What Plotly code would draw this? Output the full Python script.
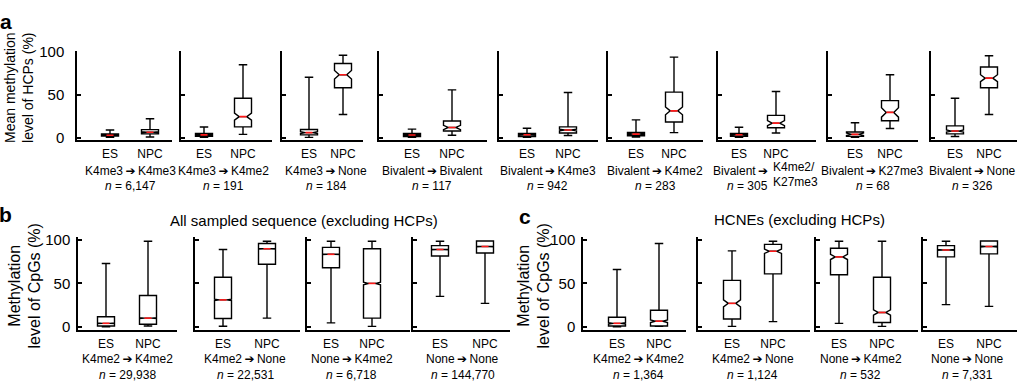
import plotly.graph_objects as go

W, H = 1017, 384
FONT = "Liberation Sans, Arial, DejaVu Sans, sans-serif"

# ---------------- data ----------------
groups = ["ES", "NPC"]

a_transitions = ["K4me3➔K4me3", "K4me3➔K4me2", "K4me3➔None", "Bivalent➔Bivalent",
                 "Bivalent➔K4me3", "Bivalent➔K4me2", "Bivalent➔K4me2/K27me3",
                 "Bivalent➔K27me3", "Bivalent➔None"]
a_n = ["6,147", "191", "184", "117", "942", "283", "305", "68", "326"]
a_lower = [[0.5, 1.0], [0.5, 4.0], [0.5, 27.0], [0.5, 3.0], [0.5, 2.6], [1.0, 6.0], [0.5, 5.6], [0.5, 10.8], [1.5, 27.0]]
a_q1 = [[2.0, 4.5], [1.8, 12.7], [3.4, 58.0], [1.5, 7.8], [1.5, 5.6], [2.3, 18.3], [1.7, 11.6], [1.7, 19.7], [4.5, 58.0]]
a_median = [[3.0, 6.5], [3.4, 24.5], [6.0, 73.0], [3.3, 12.0], [3.5, 9.0], [4.3, 31.2], [3.5, 17.0], [4.0, 29.4], [7.8, 69.0]]
a_q3 = [[4.5, 9.5], [5.0, 45.7], [9.7, 86.0], [5.0, 19.4], [5.0, 12.7], [6.2, 52.8], [5.0, 26.0], [6.7, 43.0], [13.8, 82.0]]
a_upper = [[9.0, 22.0], [12.5, 84.5], [70.0, 95.5], [10.0, 55.5], [11.0, 52.5], [20.8, 93.3], [12.3, 53.5], [17.5, 73.0], [45.7, 95.0]]
a_notch = [[0.3, 0.5], [0.5, 4.0], [1.0, 5.0], [0.8, 2.5], [0.3, 1.0], [0.7, 4.5], [0.5, 3.0], [1.5, 5.5], [1.2, 4.0]]

b_transitions = ["K4me2➔K4me2", "K4me2➔None", "None➔K4me2", "None➔None"]
b_n = ["29,938", "22,531", "6,718", "144,770"]
b_lower = [[0.0, 1.0], [0.7, 10.0], [4.5, 0.5], [35.0, 27.0]]
b_q1 = [[1.0, 3.0], [9.5, 72.0], [68.0, 10.0], [81.5, 85.0]]
b_median = [[4.0, 10.0], [31.0, 90.0], [83.5, 50.0], [89.0, 92.5]]
b_q3 = [[11.5, 36.0], [57.0, 96.0], [91.5, 90.0], [93.5, 98.8]]
b_upper = [[73.0, 98.5], [89.0, 98.5], [98.5, 98.5], [98.5, 99.0]]
b_notch = [[0.3, 0.4], [0.8, 0.3], [0.4, 1.5], [0.2, 0.2]]

c_transitions = ["K4me2➔K4me2", "K4me2➔None", "None➔K4me2", "None➔None"]
c_n = ["1,364", "1,124", "532", "7,331"]
c_lower = [[0.0, 0.5], [0.5, 6.0], [4.0, 0.5], [25.5, 23.5]]
c_q1 = [[1.0, 1.0], [9.0, 61.0], [60.0, 5.0], [80.5, 84.0]]
c_median = [[4.0, 6.5], [27.0, 87.0], [80.5, 16.5], [88.5, 92.5]]
c_q3 = [[11.0, 19.0], [53.5, 95.0], [90.5, 57.0], [93.5, 98.8]]
c_upper = [[66.0, 96.0], [87.5, 98.5], [98.5, 98.5], [98.5, 99.0]]
c_notch = [[0.8, 1.5], [4.0, 2.5], [3.0, 3.0], [0.5, 0.5]]

# ---------------- layout geometry (pixels) ----------------
# (left edge, ES centre, NPC centre, right edge)
a_geom = [(77, 110, 150, 172), (181, 204, 243, 272), (282, 309, 343, 363), (379, 412, 452, 487),
          (499, 527, 568, 598), (608, 636, 674, 703), (718, 739, 776, 816), (828, 855, 890, 918),
          (931, 955, 989, 1017)]
b_geom = [(78, 106, 148, 177), (195, 223, 267, 300), (307, 331, 372, 410), (413, 440, 485, 510)]
c_geom = [(583, 617, 659, 686), (698, 732, 773, 810), (816, 839, 882, 918), (923, 946, 989, 1017)]

BOX_PX = 17
NOTCHW = 0.28
ARROW = "\u2009<b>➔</b>\u2009"

fig = go.Figure()
annotations = []


def px_x(p):
    return p / W


def px_y(p):
    return 1 - p / H


def fmt(label):
    return label.replace("➔", ARROW)


panels = [
    dict(geom=a_geom, lo=a_lower, q1=a_q1, med=a_median, q3=a_q3, hi=a_upper, notch=a_notch,
         trans=a_transitions, n=a_n, ytop=44.3, ybot=136.7, yr=[-2.2, 100.8],
         y_trans=169, y_n=185, ystand=8),
    dict(geom=b_geom, lo=b_lower, q1=b_q1, med=b_median, q3=b_q3, hi=b_upper, notch=b_notch,
         trans=b_transitions, n=b_n, ytop=237.8, ybot=334.2, yr=[-3.7, 103.3],
         y_trans=364, y_n=381, ystand=3),
    dict(geom=c_geom, lo=c_lower, q1=c_q1, med=c_median, q3=c_q3, hi=c_upper, notch=c_notch,
         trans=c_transitions, n=c_n, ytop=237.8, ybot=334.2, yr=[-3.7, 103.3],
         y_trans=364, y_n=381, ystand=3),
]

k = 0
layout_axes = {}
for P in panels:
    for i, (L, es, npc, R) in enumerate(P["geom"]):
        k += 1
        unit = npc - es
        xr = [(L - es) / unit, (R - es) / unit]
        bw = BOX_PX / unit
        xa = "x" if k == 1 else f"x{k}"
        ya = "y" if k == 1 else f"y{k}"
        xkey = "xaxis" if k == 1 else f"xaxis{k}"
        ykey = "yaxis" if k == 1 else f"yaxis{k}"
        pos = [0, 1]
        fig.add_trace(go.Box(
            x=pos, q1=P["q1"][i], median=P["med"][i], q3=P["q3"][i],
            lowerfence=P["lo"][i], upperfence=P["hi"][i], notchspan=P["notch"][i],
            notched=True, notchwidth=NOTCHW, width=bw, whiskerwidth=0.5,
            orientation="v", fillcolor="white", boxpoints=False,
            line=dict(color="black", width=1.4), xaxis=xa, yaxis=ya, showlegend=False,
            hoverinfo="skip"))
        # red median lines
        hw = bw / 2 * (1 - 2 * NOTCHW) * 0.95
        mx, my = [], []
        for p, m in zip(pos, P["med"][i]):
            mx += [p - hw, p + hw, None]
            my += [m, m, None]
        fig.add_trace(go.Scatter(x=mx, y=my, mode="lines", line=dict(color="#ff1a1a", width=1.6),
                                 xaxis=xa, yaxis=ya, showlegend=False, hoverinfo="skip"))
        layout_axes[xkey] = dict(domain=[L / W, R / W], range=xr, anchor=ya, showgrid=False,
                                 zeroline=False, showline=True, linecolor="black", linewidth=1.5,
                                 tickvals=pos, ticktext=groups, ticks="",
                                 tickfont=dict(family=FONT, size=12, color="black"),
                                 ticklabelstandoff=2, fixedrange=True)
        layout_axes[ykey] = dict(domain=[1 - P["ybot"] / H, 1 - P["ytop"] / H], range=P["yr"],
                                 anchor=xa, showgrid=False, zeroline=False, showline=True,
                                 linecolor="black", linewidth=1.5, ticks="inside", ticklen=4,
                                 tickwidth=1.5, tickcolor="black", tickvals=[0, 50, 100],
                                 showticklabels=(i == 0),
                                 tickfont=dict(family=FONT, size=15, color="black"),
                                 ticklabelstandoff=P["ystand"], fixedrange=True)
        # transition label and n
        cx = (es + npc) / 2
        lab = P["trans"][i]
        if "/" in lab:
            left, right = lab.split("➔")
            r1, r2 = right.split("/")
            annotations.append(dict(x=px_x(cx + 12), y=px_y(P["y_trans"]), xref="paper", yref="paper",
                                    text=left + "\u2009<b>➔</b>", showarrow=False, xanchor="right",
                                    yanchor="middle", font=dict(family=FONT, size=12, color="black")))
            annotations.append(dict(x=px_x(cx + 13), y=px_y(P["y_trans"] - 4), xref="paper", yref="paper",
                                    text=r1 + "/", showarrow=False, xanchor="left", yanchor="middle",
                                    font=dict(family=FONT, size=12, color="black")))
            annotations.append(dict(x=px_x(cx + 13), y=px_y(P["y_trans"] + 12), xref="paper", yref="paper",
                                    text=r2, showarrow=False, xanchor="left", yanchor="middle",
                                    font=dict(family=FONT, size=12, color="black")))
            ncx = cx - 10
        else:
            annotations.append(dict(x=px_x(cx), y=px_y(P["y_trans"]), xref="paper", yref="paper",
                                    text=fmt(lab), showarrow=False, xanchor="center", yanchor="middle",
                                    font=dict(family=FONT, size=12, color="black")))
            ncx = cx
        annotations.append(dict(x=px_x(ncx), y=px_y(P["y_n"]), xref="paper", yref="paper",
                                text="<i>n</i> = " + P["n"][i], showarrow=False, xanchor="center",
                                yanchor="middle", font=dict(family=FONT, size=12, color="black")))

# y-axis titles
for txt, x, y, fs in [("Mean methylation<br>level of HCPs (%)", 19, 83, 14),
                      ("Methylation<br>level of CpGs (%)", 25, 289, 16),
                      ("Methylation<br>level of CpGs (%)", 534, 289, 16)]:
    annotations.append(dict(x=px_x(x), y=px_y(y), xref="paper", yref="paper", text=txt,
                            textangle=-90, showarrow=False, xanchor="center", yanchor="middle",
                            font=dict(family=FONT, size=fs, color="black")))

# panel letters
for txt, x, y in [("a", 6, 14), ("b", 5, 214), ("c", 525, 216)]:
    annotations.append(dict(x=px_x(x), y=px_y(y), xref="paper", yref="paper", text="<b>" + txt + "</b>",
                            showarrow=False, xanchor="center", yanchor="middle",
                            font=dict(family=FONT, size=21, color="black")))

# panel titles
for txt, x, y in [("All sampled sequence (excluding HCPs)", 304, 221),
                  ("HCNEs (excluding HCPs)", 799, 220)]:
    annotations.append(dict(x=px_x(x), y=px_y(y), xref="paper", yref="paper", text=txt,
                            showarrow=False, xanchor="center", yanchor="middle",
                            font=dict(family=FONT, size=15, color="black")))

fig.update_layout(width=W, height=H, margin=dict(l=0, r=0, t=0, b=0),
                  paper_bgcolor="white", plot_bgcolor="white", showlegend=False,
                  annotations=annotations, **layout_axes)

fig.write_html("out.html", config={"displayModeBar": False},
               post_script="document.body.style.margin='0';document.body.style.padding='0';"
                           "document.documentElement.style.overflow='hidden';")
